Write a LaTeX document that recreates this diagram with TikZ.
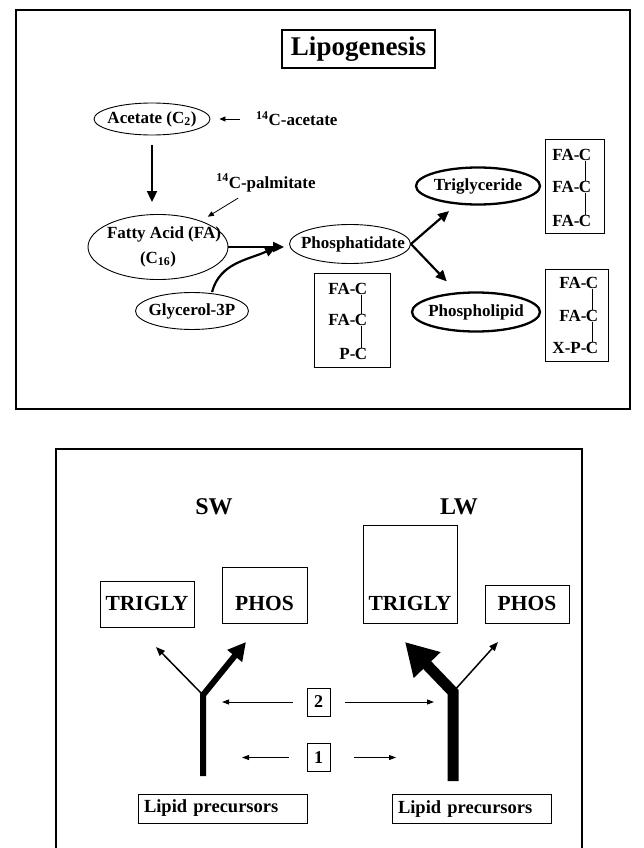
\documentclass[tikz,border=0pt]{standalone}
\usepackage{fontspec}
\setmainfont{Liberation Serif}
\usetikzlibrary{arrows.meta,shapes.geometric}

\newcommand{\inell}[1]{\makebox[0pt]{#1}}

\tikzset{
  txt/.style={font=\fontsize{17}{19}\selectfont\bfseries, inner sep=1pt},
  pool/.style={ellipse, draw, line width=0.9pt, inner sep=0pt, txt},
  product/.style={pool, line width=2.3pt},
  flow/.style={line width=2.2pt, -{Triangle[length=11pt,width=10pt]}},
  tracer/.style={line width=0.8pt, -{Triangle[length=6pt,width=5pt]}},
  atom/.style={txt, inner sep=0.5pt},
  chembox/.style={draw, line width=0.9pt},
  frame/.style={draw, line width=1.4pt},
  heading/.style={font=\fontsize{24}{26}\selectfont\bfseries},
  store/.style={draw, line width=0.9pt, anchor=base, inner xsep=0pt, inner ysep=0pt,
    font=\fontsize{21.5}{24}\selectfont\bfseries},
  tag/.style={draw, line width=0.9pt, minimum width=23pt, minimum height=28pt, inner sep=0pt,
    font=\fontsize{18}{20}\selectfont\bfseries},
  pointer/.style={line width=0.9pt, -{Triangle[length=7pt,width=5pt]}},
  precursor/.style={draw, line width=0.9pt, align=left, inner xsep=6pt, inner ysep=0pt,
    minimum height=29pt, font=\fontsize{18.5}{20}\selectfont\bfseries},
}

\begin{document}
\begin{tikzpicture}[x=1pt,y=-1pt]
  \useasboundingbox (0,0) rectangle (644,848);

  % upper panel
  \draw[frame] (16,10) rectangle (630,409);
  \node[draw, line width=1.1pt, minimum width=153pt, minimum height=38pt,
    font=\fontsize{27}{30}\selectfont\bfseries] (title) at (358.5,49) {Lipogenesis};

  \node[pool, minimum width=116pt, minimum height=32pt] (acetate) at (152,119) {\inell{Acetate (C\textsubscript{2})}};
  \node[pool, minimum width=140pt, minimum height=61pt] (fatty) at (158,247)
    {\inell{\begin{tabular}{@{}c@{}}\hspace*{12pt}Fatty Acid (FA)\\[6pt](C\textsubscript{16})\end{tabular}}};
  \node[pool, minimum width=121pt, minimum height=39pt] (phos) at (350,244) {\inell{\hspace*{6pt}Phosphatidate}};
  \node[pool, minimum width=113pt, minimum height=37pt] (glyc) at (192,311) {\inell{Glycerol-3P}};
  \node[product, minimum width=124pt, minimum height=37pt] (trig) at (478,186) {\inell{Triglyceride}};
  \node[product, minimum width=128pt, minimum height=39pt] (phlip) at (476,312) {\inell{Phospholipid}};

  \node[txt, anchor=west] (cacetate) at (255,119) {\textsuperscript{14}C-acetate};
  \node[txt] (cpalm) at (266,183) {\textsuperscript{14}C-palmitate};

  \draw[tracer, shorten <=15pt, shorten >=9pt] (cacetate) -- (acetate);
  \draw[tracer] ([shift={(23,5)}]cpalm.south west) -- ([shift={(0,-7)}]fatty.north east);
  \draw[flow, shorten <=10pt, shorten >=12pt] (acetate.south) -- (acetate.south |- fatty.north);
  \draw[flow, shorten >=5pt] (fatty.east) -- (fatty.east -| phos.west);
  \draw[flow] ([xshift=20pt]glyc.north) to[out=75,in=205] ([shift={(-13,3)}]phos.west);
  \draw[flow, shorten >=10pt] (phos.east) -- (trig);
  \draw[flow, shorten >=15pt] (phos.east) -- (phlip);

  % structures
  \node[chembox, minimum width=76pt, minimum height=94pt] (pcbox) at (352,320) {};
  \node[chembox, minimum width=59pt, minimum height=94pt] (tgbox) at (574.5,186) {};
  \node[chembox, minimum width=63pt, minimum height=92pt] (plbox) at (576.5,315) {};

  \begin{scope}[every node/.style={atom}]
    \node (pc1) at (361,289) {C};
    \node (pc2) at (361,320) {C};
    \node (pc3) at (361,354) {C};
    \node (tg1) at (585,155) {C};
    \node (tg2) at (585,187) {C};
    \node (tg3) at (585,221) {C};
    \node (pl1) at (592,283) {C};
    \node (pl2) at (592,316) {C};
    \node (pl3) at (592,348) {C};
  \end{scope}

  \begin{scope}[every node/.style={atom, anchor=east, inner sep=0pt, xshift=1.5pt}]
    \node (pcfa1) at (pc1.west) {FA-};
    \node (pcfa2) at (pc2.west) {FA-};
    \node (pcp)   at (pc3.west) {P-};
    \node (tgfa1) at (tg1.west) {FA-};
    \node (tgfa2) at (tg2.west) {FA-};
    \node (tgfa3) at (tg3.west) {FA-};
    \node (plfa1) at (pl1.west) {FA-};
    \node (plfa2) at (pl2.west) {FA-};
    \node (plxp)  at (pl3.west) {X-P-};
  \end{scope}

  \begin{scope}[every edge/.style={draw, line width=0.7pt}]
    \path (pc1) edge (pc2);
    \path (pc2) edge (pc3);
    \path (tg1) edge (tg2);
    \path (tg2) edge (tg3);
    \path (pl1) edge (pl2);
    \path (pl2) edge (pl3);
  \end{scope}

  % lower panel
  \draw[frame] (56,449) rectangle (582,860);
  \node[heading] (sw) at (214,507) {SW};
  \node[heading] (lw) at (459,507) {LW};

  \node[store, text height=29pt, text depth=17pt, minimum width=94pt] (swtrig) at (147,610) {TRIGLY};
  \node[store, text height=43pt, text depth=13pt, minimum width=85pt] (swphos) at (264.5,610) {PHOS};
  \node[store, text height=85pt, text depth=13pt, minimum width=94pt] (lwtrig) at (410,610) {TRIGLY};
  \node[store, text height=25pt, text depth=13pt, minimum width=84pt] (lwphos) at (527,610) {PHOS};

  \coordinate (swbase)  at (203,776);
  \coordinate (swfork)  at (203,695);
  \coordinate (swtgend) at (156,647);
  \coordinate (swphend) at (246,642);
  \coordinate (lwbase)  at (453,781);
  \coordinate (lwfork)  at (453,692);
  \coordinate (lwtgend) at (405,642);
  \coordinate (lwphend) at (498,642);

  \draw[line width=6pt, line join=miter, -{Triangle[length=18pt,width=18pt]}] (swbase) -- (swfork) -- (swphend);
  \draw[line width=1.5pt, -{Triangle[length=9pt,width=7pt]}] (swfork) -- (swtgend);
  \draw[line width=11pt, line join=miter, -{Triangle[length=32pt,width=35pt]}] (lwbase) -- (lwfork) -- (lwtgend);
  \draw[line width=1.5pt, -{Triangle[length=9pt,width=7pt]}] (lwfork) -- (lwphend);

  \node[tag] (two) at (318.5,702) {2};
  \node[tag] (one) at (318.5,757.5) {1};
  \coordinate (swtwo) at (222,702);
  \coordinate (lwtwo) at (434,702);
  \coordinate (swone) at (242,757.5);
  \coordinate (lwone) at (396,757.5);

  \draw[pointer, shorten <=14pt] (two) -- (swtwo);
  \draw[pointer, shorten <=15pt] (two) -- (lwtwo);
  \draw[pointer, shorten <=18pt] (one) -- (swone);
  \draw[pointer, shorten <=24pt] (one) -- (lwone);

  \node[precursor, text width=157pt] (swlipid) at (222.5,808.5) {Lipid precursors};
  \node[precursor, text width=147pt] (lwlipid) at (471.5,809) {Lipid precursors};

\end{tikzpicture}
\end{document}
